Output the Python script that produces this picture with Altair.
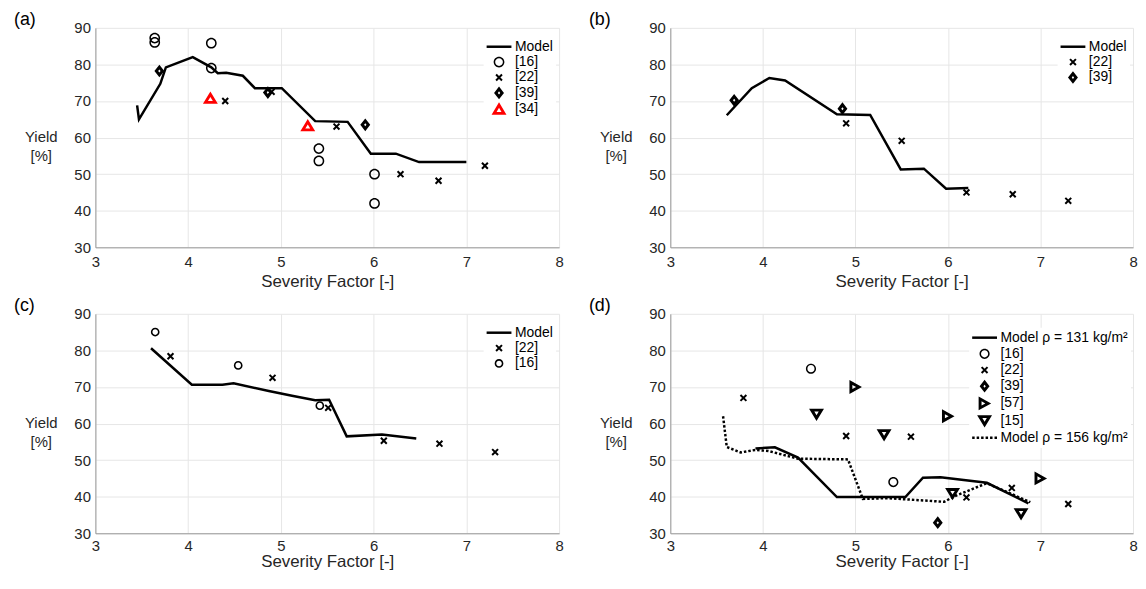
import altair as alt
import pandas as pd

FONT = "Liberation Sans"

# ---------------- data ----------------
# Panel (a)
a_model_x = [3.45, 3.47, 3.70, 3.76, 4.05, 4.25, 4.32, 4.41, 4.59, 4.72, 4.87, 5.01, 5.37, 5.72, 5.97, 6.24, 6.49, 7.00]
a_model_y = [68.8, 65.0, 74.7, 79.2, 82.0, 79.2, 77.6, 77.7, 76.9, 73.5, 73.5, 73.5, 64.5, 64.3, 55.6, 55.6, 53.3, 53.3]
a16_x = [3.64, 3.64, 4.25, 4.25, 5.41, 5.41, 6.01, 6.01]
a16_y = [87.2, 86.0, 85.8, 79.0, 57.0, 53.6, 50.0, 42.0]
a22_x = [4.40, 4.90, 5.60, 6.29, 6.70, 7.20]
a22_y = [70.0, 72.5, 63.0, 50.0, 48.2, 52.3]
a39_x = [3.69, 4.86, 5.91]
a39_y = [78.2, 72.3, 63.5]
a34_x = [4.24, 5.29]
a34_y = [70.7, 63.2]

# Panel (b)
b_model_x = [3.61, 3.88, 4.07, 4.24, 4.80, 5.16, 5.49, 5.74, 5.98, 6.22]
b_model_y = [66.1, 73.5, 76.3, 75.6, 66.4, 66.2, 51.3, 51.5, 46.0, 46.2]
b22_x = [4.90, 5.50, 6.20, 6.70, 7.30]
b22_y = [63.9, 59.1, 45.0, 44.5, 42.7]
b39_x = [3.69, 4.86]
b39_y = [70.2, 67.9]

# Panel (c)
c_model_x = [3.60, 4.04, 4.37, 4.49, 4.87, 5.12, 5.37, 5.52, 5.71, 6.09, 6.46]
c_model_y = [80.6, 70.6, 70.6, 71.0, 68.9, 67.6, 66.4, 66.5, 56.5, 57.0, 55.9]
c22_x = [3.81, 4.91, 5.51, 6.11, 6.71, 7.31]
c22_y = [78.4, 72.5, 64.3, 55.3, 54.5, 52.2]
c16_x = [3.645, 4.54, 5.42]
c16_y = [85.0, 75.9, 64.9]

# Panel (d)
d_m131_x = [3.92, 4.13, 4.38, 4.80, 5.54, 5.73, 5.92, 6.42, 6.87]
d_m131_y = [53.2, 53.5, 50.7, 39.9, 39.9, 45.2, 45.3, 43.8, 38.2]
d_m156_x = [3.57, 3.61, 3.76, 3.92, 4.06, 4.38, 4.92, 5.08, 5.35, 5.96, 6.06, 6.42, 6.89]
d_m156_y = [62.0, 53.6, 52.1, 52.8, 52.5, 50.4, 50.2, 39.4, 39.6, 38.6, 40.0, 43.7, 38.5]
d16_x = [4.52, 5.41]
d16_y = [75.0, 44.0]
d22_x = [3.79, 4.90, 5.60, 6.20, 6.69, 7.30]
d22_y = [67.0, 56.6, 56.4, 39.8, 42.4, 38.0]
d39_x = [5.89]
d39_y = [32.9]
d57_x = [5.0, 6.0, 7.0]
d57_y = [70.0, 62.0, 45.0]
d15_x = [4.58, 5.31, 6.05, 6.79]
d15_y = [62.6, 57.0, 40.9, 35.4]

x_ticks = [3, 4, 5, 6, 7, 8]
y_ticks = [30, 40, 50, 60, 70, 80, 90]

M131 = "Model \u03c1 = 131 kg/m\u00b2"
M156 = "Model \u03c1 = 156 kg/m\u00b2"

# ---------------- marker glyphs (filled outlines with small holes) ----------------
SIZE = 144
U = (SIZE ** 0.5) / 2.0  # pixels per path unit


def f(v):
    return f"{v / U:.3f}"


def poly(pts):
    return "M" + "L".join(f"{f(x)},{f(y)}" for x, y in pts) + "Z"


def ring(r_out, r_in):
    o = f"M{f(-r_out)},0A{f(r_out)},{f(r_out)} 0 1 1 {f(r_out)},0A{f(r_out)},{f(r_out)} 0 1 1 {f(-r_out)},0Z"
    i = f"M{f(-r_in)},0A{f(r_in)},{f(r_in)} 0 1 0 {f(r_in)},0A{f(r_in)},{f(r_in)} 0 1 0 {f(-r_in)},0Z"
    return o + i


def with_hole(pts, k):
    cx = sum(p[0] for p in pts) / len(pts)
    cy = sum(p[1] for p in pts) / len(pts)
    inner = [(cx + k * (x - cx), cy + k * (y - cy)) for x, y in pts][::-1]
    return poly(pts) + poly(inner)


def xmark(L, h):
    s = 0.7071
    r1 = [(-L * s + h * s, -L * s - h * s), (L * s + h * s, L * s - h * s),
          (L * s - h * s, L * s + h * s), (-L * s - h * s, -L * s + h * s)]
    r2 = [(x, -y) for x, y in r1][::-1]
    return poly(r1) + poly(r2)


def bar(x0, x1, h=1.25):
    return poly([(x0, -h), (x1, -h), (x1, h), (x0, h)])


LINE = bar(-12.5, 12.5)
DOTS = "".join(bar(a, a + 2.5) for a in [-12.5, -8.0, -3.5, 1.0, 5.5, 10.0])
XM = xmark(4.2, 1.0)
DIAM = with_hole([(0, -6.4), (5.0, 0), (0, 6.4), (-5.0, 0)], 0.24)
TRI_UP = with_hole([(0, -7.0), (7.5, 5.4), (-7.5, 5.4)], 0.33)
TRI_RIGHT = with_hole([(6.6, 0), (-6.0, 7.0), (-6.0, -7.0)], 0.3)
TRI_DOWN = with_hole([(0, 7.0), (7.5, -5.4), (-7.5, -5.4)], 0.3)


def x_axis(label_pad, title_pad):
    return alt.Axis(values=x_ticks, format="d", title="Severity Factor [-]",
                    titleFontSize=17, labelPadding=label_pad, titlePadding=title_pad, ticks=False,
                    labelFlush=False, labelOverlap=False)


def y_axis():
    return alt.Axis(values=y_ticks, format="d", title=["Yield", "[%]"], titleAngle=0,
                    titleX=-55, titleY=109, titleAlign="center", titleBaseline="middle",
                    titleFontSize=15, titleLineHeight=20, labelPadding=5, ticks=False,
                    labelFlush=False, labelOverlap=False)


def panel(letter, lines, points, entries, lx_pos, ly_pos, row_pad, width, bottom_row):
    xs = alt.Scale(domain=[3, 8], nice=False, zero=False)
    ys = alt.Scale(domain=[30, 90], nice=False, zero=False)
    xa = x_axis(5, 0) if bottom_row else x_axis(7, 4)
    layers = []
    for lab, lx, ly, dash in lines:
        df = pd.DataFrame({"sf": lx, "yld": ly})
        kw = dict(color="black", strokeWidth=2.5)
        if dash:
            kw["strokeDash"] = dash
        layers.append(alt.Chart(df).mark_line(**kw).encode(
            x=alt.X("sf:Q", scale=xs, axis=xa),
            y=alt.Y("yld:Q", scale=ys, axis=y_axis()),
        ))
    rows = []
    for lab, px, py in points:
        rows += [{"sf": a, "yld": b, "series": lab} for a, b in zip(px, py)]
    pdf = pd.DataFrame(rows)
    labels = [e[0] for e in entries]
    leg = dict(title=None, orient="none", legendX=lx_pos, legendY=ly_pos, padding=3,
               fillColor="white", labelFont=FONT, labelFontSize=14, labelColor="black",
               symbolOffset=5.5, labelOffset=9, rowPadding=row_pad, symbolSize=SIZE,
               symbolOpacity=1, symbolStrokeWidth=0)
    layers.append(alt.Chart(pdf).mark_point(filled=True, size=SIZE, opacity=1, strokeWidth=0).encode(
        x=alt.X("sf:Q", scale=xs, axis=xa),
        y=alt.Y("yld:Q", scale=ys, axis=y_axis()),
        shape=alt.Shape("series:N", scale=alt.Scale(domain=labels, range=[e[1] for e in entries]),
                        legend=alt.Legend(**leg)),
        color=alt.Color("series:N", scale=alt.Scale(type="ordinal", domain=labels,
                                                    range=[e[2] for e in entries]),
                        legend=alt.Legend(**leg)),
    ))
    layers.append(
        alt.Chart(alt.Data(values=[{"lab": letter}])).mark_text(
            align="left", baseline="middle", fontSize=18, font=FONT, color="black"
        ).encode(text="lab:N", x=alt.value(-82), y=alt.value(-8))
    )
    return alt.layer(*layers).properties(width=width, height=221)


pa = panel("(a)",
           [("Model", a_model_x, a_model_y, None)],
           [("[16]", a16_x, a16_y), ("[22]", a22_x, a22_y), ("[39]", a39_x, a39_y), ("[34]", a34_x, a34_y)],
           [("Model", LINE, "black"), ("[16]", ring(5.4, 3.9), "black"),
            ("[22]", XM, "black"), ("[39]", DIAM, "black"),
            ("[34]", TRI_UP, "#ff0000")],
           391, 9, 1.5, 467, False)

pb = panel("(b)",
           [("Model", b_model_x, b_model_y, None)],
           [("[22]", b22_x, b22_y), ("[39]", b39_x, b39_y)],
           [("Model", LINE, "black"), ("[22]", XM, "black"),
            ("[39]", DIAM, "black")],
           390, 9, 1.5, 466, False)

pc = panel("(c)",
           [("Model", c_model_x, c_model_y, None)],
           [("[22]", c22_x, c22_y), ("[16]", c16_x, c16_y)],
           [("Model", LINE, "black"), ("[22]", XM, "black"),
            ("[16]", ring(4.4, 2.8), "black")],
           391, 9, 1.5, 467, True)

pd_ = panel("(d)",
            [(M131, d_m131_x, d_m131_y, None), (M156, d_m156_x, d_m156_y, [2.5, 2])],
            [("[16]", d16_x, d16_y), ("[22]", d22_x, d22_y), ("[39]", d39_x, d39_y),
             ("[57]", d57_x, d57_y), ("[15]", d15_x, d15_y)],
            [(M131, LINE, "black"), ("[16]", ring(5.1, 3.6), "black"),
             ("[22]", XM, "black"), ("[39]", DIAM, "black"),
             ("[57]", TRI_RIGHT, "black"), ("[15]", TRI_DOWN, "black"),
             (M156, DOTS, "black")],
            301, 14, 2.3, 466, True)

chart = alt.concat(pa, pb, pc, pd_, columns=2, spacing={"row": 67, "column": 112}, bounds="flush").resolve_scale(
    shape="independent", color="independent"
).properties(
    padding={"left": 5, "top": 0, "right": 0, "bottom": 0}
).configure_axis(
    labelFont=FONT, labelFontSize=15, labelColor="#262626",
    titleFont=FONT, titleColor="#262626", titleFontWeight="normal",
    gridColor="#e6e6e6", gridWidth=1, domainColor="#999999", domainWidth=1,
).configure_view(stroke="transparent")

chart.save("out.html", embed_options={"renderer": "svg", "actions": False})
